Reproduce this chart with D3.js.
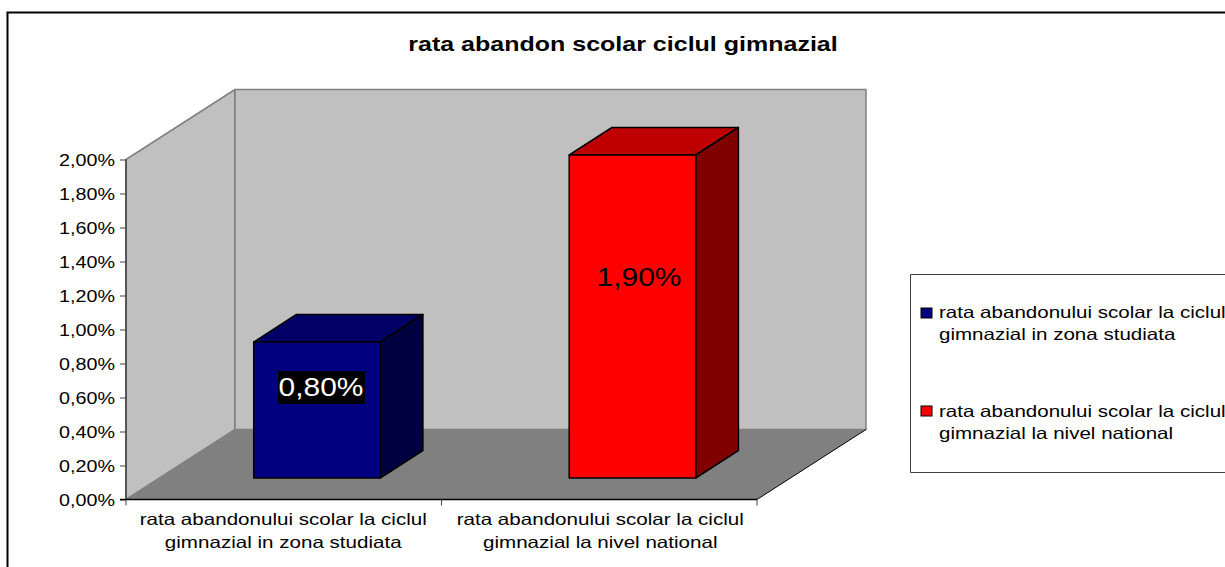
<!DOCTYPE html>
<html><head><meta charset="utf-8">
<script src="https://cdn.jsdelivr.net/npm/d3@7/dist/d3.min.js"></script>
<style>html,body{margin:0;padding:0;background:#fff}svg{display:block}text{font-family:"Liberation Sans",Arial,sans-serif;fill:#000}</style>
</head><body><svg id="c" width="1225" height="567"></svg>
<script>
const titleText = "rata abandon scolar ciclul gimnazial";
const categories = ["rata abandonului scolar la ciclul gimnazial in zona studiata","rata abandonului scolar la ciclul gimnazial la nivel national"];
const catLines = [["rata abandonului scolar la ciclul","gimnazial in zona studiata"],["rata abandonului scolar la ciclul","gimnazial la nivel national"]];
const values = [0.8,1.9];
const valueLabels = ["0,80%","1,90%"];
const ticks = [0,0.2,0.4,0.6,0.8,1,1.2,1.4,1.6,1.8,2];
const tickLabels = ["0,00%","0,20%","0,40%","0,60%","0,80%","1,00%","1,20%","1,40%","1,60%","1,80%","2,00%"];
const frontColors = ["#000080","#ff0000"], topColors=["#000066","#bf0000"], sideColors=["#000040","#800000"];

const svg = d3.select("#c");
const y = d3.scaleLinear().domain([0,2]).range([499.5,159.5]);
const x = d3.scaleBand().domain(categories).range([126,757]);
const wall = {dx:109, dy:-70};
const inset = {dx:33.2, dy:-21.5};
const depth = {dx:42.7, dy:-27.5};
const barW = 126.5;
const poly = (pts,fill,stroke,sw)=>svg.append("path").attr("d","M"+pts.map(p=>p.join(",")).join("L")+"Z").attr("fill",fill).attr("stroke",stroke||"none").attr("stroke-width",sw||0).attr("stroke-linejoin","round");
// the reference's text is horizontally stretched
const stretch = (sel,k)=>sel.each(function(){const t=d3.select(this);t.attr("textLength",this.getComputedTextLength()*k).attr("lengthAdjust","spacingAndGlyphs");});

svg.append("path").attr("d","M7.5,567V12.5H1225").attr("fill","none").attr("stroke","#000").attr("stroke-width",2);
svg.append("text").attr("x",623).attr("y",51).attr("text-anchor","middle").attr("font-size",20.5).attr("font-weight","bold").text(titleText).call(stretch,1.22);

const x0=x.range()[0], x1=x.range()[1], y0=y(0), yt=y(2);
poly([[x0,y0],[x0,yt],[x0+wall.dx,yt+wall.dy],[x0+wall.dx,y0+wall.dy]],"#c0c0c0","#808080",1.5);
poly([[x0+wall.dx,y0+wall.dy],[x0+wall.dx,yt+wall.dy],[x1+wall.dx,yt+wall.dy],[x1+wall.dx,y0+wall.dy]],"#c0c0c0","#808080",1.5);
poly([[x0,y0],[x0+wall.dx,y0+wall.dy],[x1+wall.dx,y0+wall.dy],[x1,y0]],"#808080");
svg.append("line").attr("x1",x1).attr("y1",y0).attr("x2",x1+wall.dx).attr("y2",y0+wall.dy).attr("stroke","#000").attr("stroke-width",1);

const ax = svg.append("g").attr("transform",`translate(${x0},0)`).call(d3.axisLeft(y).tickValues(ticks).tickSize(6).tickFormat((d,i)=>tickLabels[i]));
ax.attr("font-family",null).attr("font-size",null);
ax.select(".domain").attr("stroke","#404040").attr("stroke-width",1.5).attr("d",`M0,${y0}V${yt}`);
ax.selectAll(".tick line").attr("stroke","#404040");
ax.selectAll(".tick text").attr("font-size",17).attr("x",-11).attr("dy","0.35em").call(stretch,1.16);
svg.append("line").attr("x1",x0-6).attr("x2",x1).attr("y1",y0).attr("y2",y0).attr("stroke","#000").attr("stroke-width",1.5);
[x0, x0+x.step(), x1].forEach(t=>svg.append("line").attr("x1",t).attr("x2",t).attr("y1",y0).attr("y2",y0+6).attr("stroke","#404040"));

categories.forEach((c,i)=>{
  const cx=x(c)+x.bandwidth()/2;
  catLines[i].forEach((l,j)=>svg.append("text").attr("x",cx+(i?1:0)-(i?0:0.5)).attr("y",525+j*23).attr("text-anchor","middle").attr("font-size",16.5).text(l).call(stretch,1.247));
  const l=cx+inset.dx-barW/2, r=l+barW, b=y0+inset.dy, t=y(values[i])+inset.dy;
  poly([[l,t],[l+depth.dx,t+depth.dy],[r+depth.dx,t+depth.dy],[r,t]],topColors[i],"#000",1.5);
  poly([[r,b],[r,t],[r+depth.dx,t+depth.dy],[r+depth.dx,b+depth.dy]],sideColors[i],"#000",1.5);
  poly([[l,b],[l,t],[r,t],[r,b]],frontColors[i],"#000",1.5);
  if(i===0) svg.append("rect").attr("x",278).attr("y",371).attr("width",87).attr("height",33).attr("fill","#000");
  svg.append("text").attr("x",i?639:321).attr("y",i?286:396).attr("text-anchor","middle").attr("font-size",26).style("fill",i?"#000":"#fff").text(valueLabels[i]).call(stretch,1.15);
});

svg.append("path").attr("d","M1225,274.5H910.5V472.5H1225").attr("fill","#fff").attr("stroke","#404040").attr("stroke-width",1);
categories.forEach((c,i)=>{
  const top=i?406:308;
  svg.append("rect").attr("x",921).attr("y",top).attr("width",11).attr("height",10).attr("fill",frontColors[i]).attr("stroke","#000").attr("stroke-width",1);
  catLines[i].forEach((l,j)=>svg.append("text").attr("x",939).attr("y",(i?417:318)+j*22).attr("font-size",16.5).text(l).call(stretch,1.245));
});
</script></body></html>
